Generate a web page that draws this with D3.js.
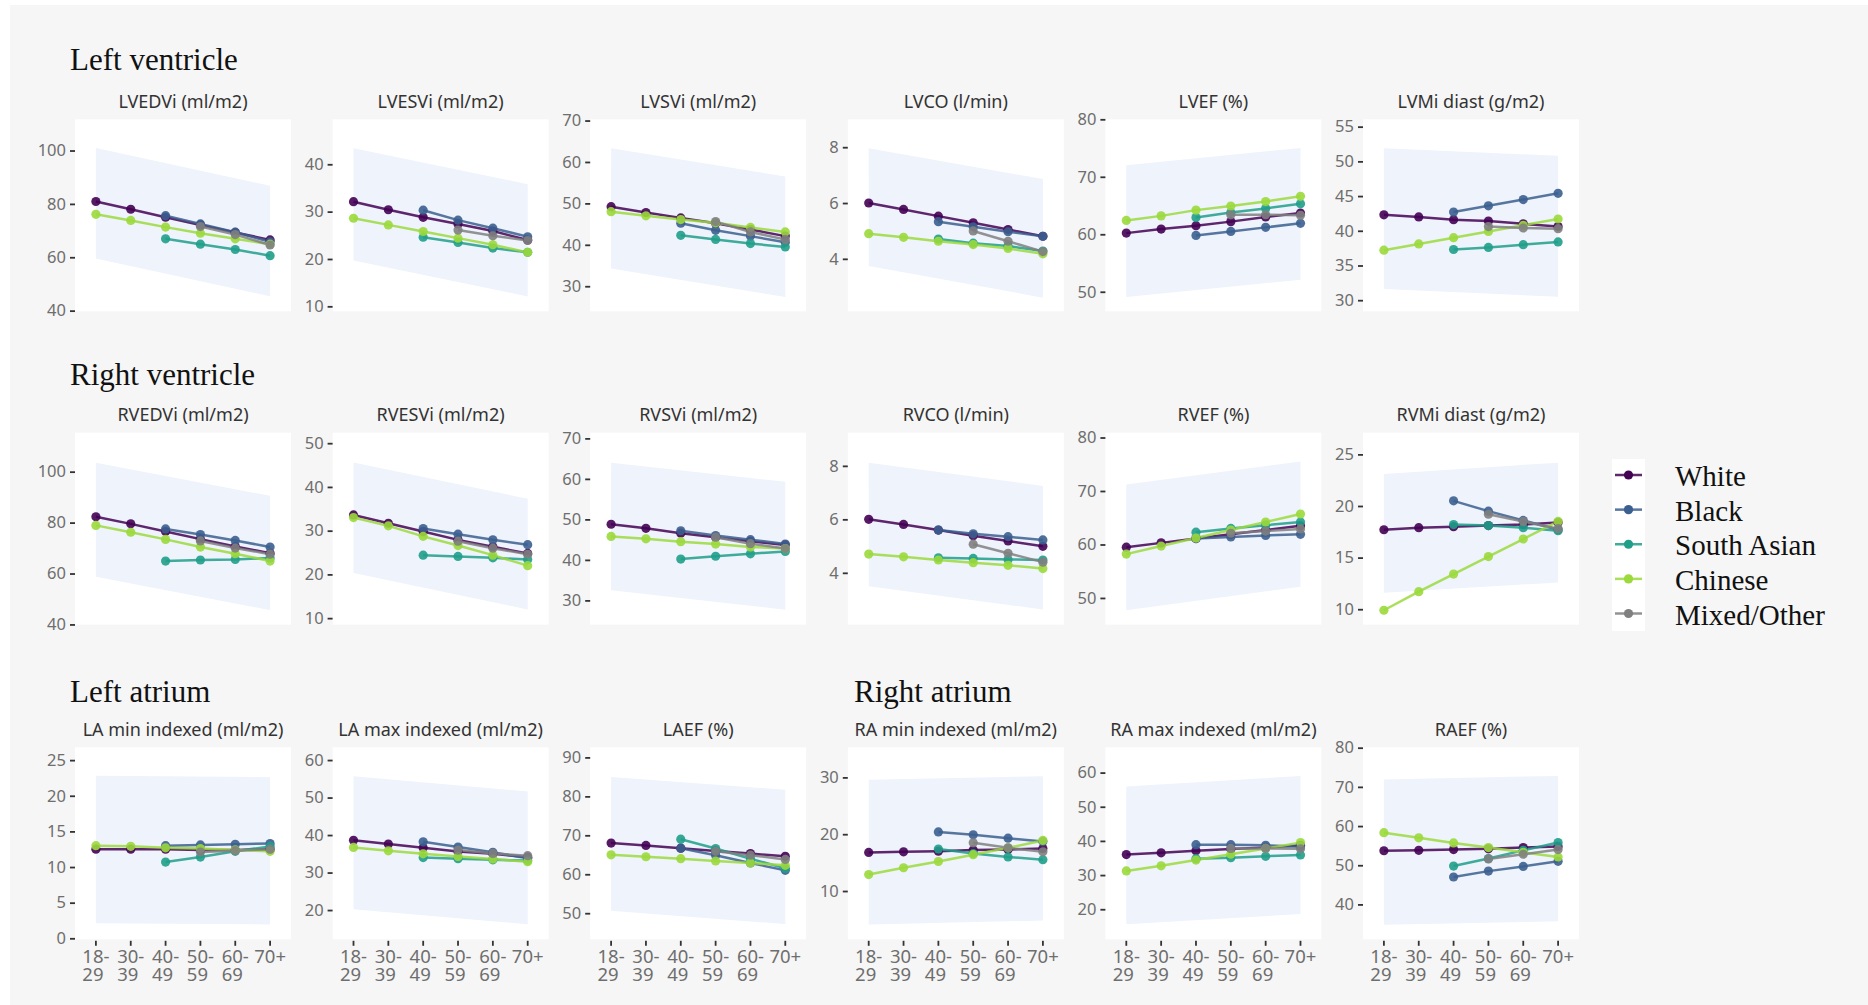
<!DOCTYPE html>
<html>
<head>
<meta charset="utf-8">
<script src="https://cdn.jsdelivr.net/npm/d3@7"></script>
<style>
  html, body { margin: 0; padding: 0; background: #ffffff; }
  svg { display: block; }
</style>
</head>
<body>
<svg id="chart" width="1868" height="1005"></svg>
<script>
// ---- categories ----
const ageGroups = ["18-29", "30-39", "40-49", "50-59", "60-69", "70+"];
const ageTickLines = [["18-", "29"], ["30-", "39"], ["40-", "49"], ["50-", "59"], ["60-", "69"], ["70+"]];
const ethnicities = ["White", "Black", "South Asian", "Chinese", "Mixed/Other"];

// ---- series values: one row per ethnicity (White, Black, South Asian, Chinese, Mixed/Other) ----
const lvedvi = [
  [80.9, 78.0, 75.0, 72.1, 69.3, 66.5],
  [null, null, 75.6, 72.5, 69.4, 65.8],
  [null, null, 66.9, 64.9, 62.9, 60.6],
  [76.1, 73.8, 71.3, 69.0, 66.9, 64.9],
  [null, null, null, 71.5, 68.5, 64.6]
];
const lvesvi = [
  [32.1, 30.4, 28.8, 27.4, 25.9, 24.0],
  [null, null, 30.3, 28.2, 26.5, 24.7],
  [null, null, 24.6, 23.5, 22.3, 21.4],
  [28.6, 27.2, 25.8, 24.4, 23.0, 21.4],
  [null, null, null, 26.1, 24.9, 23.9]
];
const lvsvi = [
  [49.2, 47.8, 46.5, 45.2, 43.7, 42.1],
  [null, null, 45.2, 43.5, 42.1, 40.6],
  [null, null, 42.3, 41.3, 40.3, 39.5],
  [48.0, 47.0, 46.1, 45.3, 44.2, 43.1],
  [null, null, null, 45.6, 43.1, 41.3]
];
const lvco = [
  [6.00, 5.77, 5.53, 5.29, 5.05, 4.81],
  [null, null, 5.33, 5.15, 4.97, 4.81],
  [null, null, 4.71, 4.56, 4.46, 4.28],
  [4.90, 4.77, 4.63, 4.51, 4.37, 4.18],
  [null, null, null, 5.00, 4.63, 4.26]
];
const lvef = [
  [60.2, 60.9, 61.5, 62.2, 63.0, 63.7],
  [null, null, 59.8, 60.5, 61.2, 61.9],
  [null, null, 62.9, 63.8, 64.5, 65.3],
  [62.4, 63.2, 64.2, 64.9, 65.7, 66.6],
  [null, null, null, 63.4, 63.4, 63.3]
];
const lvmi = [
  [42.3, 42.0, 41.6, 41.4, 41.0, 40.6],
  [null, null, 42.7, 43.6, 44.5, 45.4],
  [null, null, 37.3, 37.6, 38.0, 38.4],
  [37.2, 38.1, 39.0, 39.9, 40.8, 41.7],
  [null, null, null, 40.6, 40.4, 40.3]
];
const rvedvi = [
  [82.3, 79.5, 76.5, 73.5, 70.6, 68.0],
  [null, null, 77.5, 75.3, 73.0, 70.4],
  [null, null, 64.9, 65.3, 65.5, 66.1],
  [78.9, 76.2, 73.4, 70.4, 67.8, 64.9],
  [null, null, null, 72.8, 70.0, 67.6]
];
const rvesvi = [
  [33.6, 31.7, 29.8, 27.9, 26.3, 24.8],
  [null, null, 30.5, 29.2, 27.9, 26.8],
  [null, null, 24.4, 24.1, 23.8, 23.4],
  [33.0, 31.1, 28.7, 26.6, 24.4, 22.0],
  [null, null, null, 27.6, 26.0, 24.6]
];
const rvsvi = [
  [48.8, 47.8, 46.6, 45.6, 44.6, 43.7],
  [null, null, 47.2, 46.0, 45.0, 43.9],
  [null, null, 40.2, 40.9, 41.5, 42.1],
  [45.8, 45.2, 44.5, 43.9, 43.2, 42.8],
  [null, null, null, 45.6, 44.0, 42.8]
];
const rvco = [
  [6.00, 5.81, 5.60, 5.39, 5.19, 4.99],
  [null, null, 5.60, 5.46, 5.35, 5.23],
  [null, null, 4.56, 4.54, 4.50, 4.48],
  [4.70, 4.60, 4.48, 4.38, 4.28, 4.16],
  [null, null, null, 5.07, 4.73, 4.40]
];
const rvef = [
  [59.5, 60.3, 61.1, 61.9, 62.7, 63.5],
  [null, null, 61.1, 61.4, 61.7, 61.9],
  [null, null, 62.3, 63.0, 63.6, 64.2],
  [58.2, 59.7, 61.2, 62.7, 64.2, 65.7],
  [null, null, null, 62.1, 62.5, 62.9]
];
const rvmi = [
  [17.7, 17.9, 18.0, 18.1, 18.2, 18.4],
  [null, null, 20.5, 19.5, 18.6, 17.7],
  [null, null, 18.2, 18.1, 17.9, 17.6],
  [9.9, 11.7, 13.4, 15.1, 16.8, 18.5],
  [null, null, null, 19.2, 18.5, 17.8]
];
const laMin = [
  [12.5, 12.5, 12.5, 12.4, 12.4, 12.5],
  [null, null, 13.0, 13.1, 13.2, 13.3],
  [null, null, 10.7, 11.4, 12.2, 12.9],
  [13.0, 12.9, 12.7, 12.6, 12.4, 12.2],
  [null, null, null, 12.1, 12.3, 12.5]
];
const laMax = [
  [38.6, 37.6, 36.6, 35.6, 35.0, 34.1],
  [null, null, 38.2, 36.8, 35.4, 33.8],
  [null, null, 34.0, 33.7, 33.4, 33.2],
  [36.7, 35.8, 35.0, 34.3, 33.6, 32.9],
  [null, null, null, 36.0, 35.1, 34.5]
];
const laef = [
  [68.0, 67.4, 66.7, 66.0, 65.3, 64.6],
  [null, null, 66.7, 64.9, 62.9, 61.0],
  [null, null, 69.0, 66.6, 64.0, 61.5],
  [65.0, 64.5, 64.0, 63.4, 62.9, 62.3],
  [null, null, null, 65.9, 64.9, 63.8]
];
const raMin = [
  [16.8, 16.9, 17.0, 17.2, 17.3, 17.5],
  [null, null, 20.4, 19.9, 19.3, 18.7],
  [null, null, 17.4, 16.6, 16.0, 15.5],
  [12.9, 14.1, 15.2, 16.4, 17.6, 18.9],
  [null, null, null, 18.5, 17.6, 16.9]
];
const raMax = [
  [36.0, 36.5, 37.1, 37.6, 38.1, 38.7],
  [null, null, 38.9, 38.9, 38.7, 38.3],
  [null, null, 34.8, 35.1, 35.5, 35.9],
  [31.2, 32.7, 34.4, 36.1, 37.8, 39.5],
  [null, null, null, 37.8, 37.8, 37.7]
];
const raef = [
  [53.7, 53.8, 54.0, 54.2, 54.5, 54.8],
  [null, null, 47.0, 48.5, 49.7, 51.0],
  [null, null, 49.8, 51.7, 53.8, 55.8],
  [58.3, 57.0, 55.7, 54.5, 53.3, 52.1],
  [null, null, null, 51.6, 52.8, 54.0]
];

// ---- reference bands: [lower at 18-29, lower at 70+], [upper at 18-29, upper at 70+] ----
const lvediBand = [[59.5, 45.4], [100.9, 86.8]];
const lvesviBand = [[19.7, 12.1], [43.4, 35.8]];
const lvsviBand = [[34.3, 27.4], [63.3, 56.5]];
const lvcoBand = [[3.74, 2.61], [7.96, 6.86]];
const lvefBand = [[49.1, 52.1], [72.0, 75.0]];
const lvmiBand = [[31.6, 30.5], [51.9, 50.8]];
const rvediBand = [[58.7, 45.6], [103.5, 90.5]];
const rvesviBand = [[20.3, 12.0], [45.6, 37.3]];
const rvsviBand = [[32.5, 27.7], [64.0, 59.3]];
const rvcoBand = [[3.50, 2.63], [8.12, 7.25]];
const rvefBand = [[47.7, 52.1], [71.2, 75.5]];
const rvmiBand = [[11.6, 12.6], [23.1, 24.2]];
const laMinBand = [[2.1, 1.95], [22.8, 22.6]];
const laMaxBand = [[20.2, 16.2], [55.7, 51.6]];
const laefBand = [[50.6, 47.2], [85.0, 81.7]];
const raMinBand = [[4.1, 4.8], [29.6, 30.2]];
const raMaxBand = [[15.6, 18.6], [55.9, 59.0]];
const raefBand = [[34.8, 35.7], [71.9, 72.8]];

// ---- y tick labels per panel ----
const ticksLVEDVi = [40, 60, 80, 100];
const ticksLVESVi = [10, 20, 30, 40];
const ticksLVSVi = [30, 40, 50, 60, 70];
const ticksLVCO = [4, 6, 8];
const ticksLVEF = [50, 60, 70, 80];
const ticksLVMi = [30, 35, 40, 45, 50, 55];
const ticksRVEDVi = [40, 60, 80, 100];
const ticksRVESVi = [10, 20, 30, 40, 50];
const ticksRVSVi = [30, 40, 50, 60, 70];
const ticksRVCO = [4, 6, 8];
const ticksRVEF = [50, 60, 70, 80];
const ticksRVMi = [10, 15, 20, 25];
const ticksLAMin = [0, 5, 10, 15, 20, 25];
const ticksLAMax = [20, 30, 40, 50, 60];
const ticksLAEF = [50, 60, 70, 80, 90];
const ticksRAMin = [10, 20, 30];
const ticksRAMax = [20, 30, 40, 50, 60];
const ticksRAEF = [40, 50, 60, 70, 80];

// ---- panel definitions (row, column, title, data, band, scale domain, ticks) ----
const panels = [
  { row: 0, col: 0, title: "LVEDVi (ml/m2)", values: lvedvi, band: lvediBand, domain: [39.75, 111.7], ticks: ticksLVEDVi },
  { row: 0, col: 1, title: "LVESVi (ml/m2)", values: lvesvi, band: lvesviBand, domain: [8.95, 49.5], ticks: ticksLVESVi },
  { row: 0, col: 2, title: "LVSVi (ml/m2)", values: lvsvi, band: lvsviBand, domain: [23.95, 70.3], ticks: ticksLVSVi },
  { row: 0, col: 3, title: "LVCO (l/min)", values: lvco, band: lvcoBand, domain: [2.12, 9.0], ticks: ticksLVCO },
  { row: 0, col: 4, title: "LVEF (%)", values: lvef, band: lvefBand, domain: [46.6, 80.0], ticks: ticksLVEF },
  { row: 0, col: 5, title: "LVMi diast (g/m2)", values: lvmi, band: lvmiBand, domain: [28.4, 56.06], ticks: ticksLVMi },
  { row: 1, col: 0, title: "RVEDVi (ml/m2)", values: rvedvi, band: rvediBand, domain: [39.9, 115.3], ticks: ticksRVEDVi },
  { row: 1, col: 1, title: "RVESVi (ml/m2)", values: rvesvi, band: rvesviBand, domain: [8.5, 52.4], ticks: ticksRVESVi },
  { row: 1, col: 2, title: "RVSVi (ml/m2)", values: rvsvi, band: rvsviBand, domain: [24.0, 71.4], ticks: ticksRVSVi },
  { row: 1, col: 3, title: "RVCO (l/min)", values: rvco, band: rvcoBand, domain: [2.06, 9.24], ticks: ticksRVCO },
  { row: 1, col: 4, title: "RVEF (%)", values: rvef, band: rvefBand, domain: [45.0, 80.9], ticks: ticksRVEF },
  { row: 1, col: 5, title: "RVMi diast (g/m2)", values: rvmi, band: rvmiBand, domain: [8.5, 27.1], ticks: ticksRVMi },
  { row: 2, col: 0, title: "LA min indexed (ml/m2)", values: laMin, band: laMinBand, domain: [-0.14, 26.8], ticks: ticksLAMin },
  { row: 2, col: 1, title: "LA max indexed (ml/m2)", values: laMax, band: laMaxBand, domain: [12.2, 63.4], ticks: ticksLAMax },
  { row: 2, col: 2, title: "LAEF (%)", values: laef, band: laefBand, domain: [43.3, 92.6], ticks: ticksLAEF },
  { row: 2, col: 3, title: "RA min indexed (ml/m2)", values: raMin, band: raMinBand, domain: [1.5, 35.3], ticks: ticksRAMin },
  { row: 2, col: 4, title: "RA max indexed (ml/m2)", values: raMax, band: raMaxBand, domain: [11.2, 67.4], ticks: ticksRAMax },
  { row: 2, col: 5, title: "RAEF (%)", values: raef, band: raefBand, domain: [31.1, 80.1], ticks: ticksRAEF }
];

const sections = [
  { text: "Left ventricle", x: 70, y: 69.5 },
  { text: "Right ventricle", x: 70, y: 384.5 },
  { text: "Left atrium", x: 70, y: 702 },
  { text: "Right atrium", x: 854, y: 702 }
];

// ---- styling ----
const colors = ["#440154", "#3b5f8f", "#1f9e89", "#9bd93c", "#808080"];
const sansFont = "'Noto Sans', 'Open Sans', sans-serif";
const serifFont = "'Liberation Serif', 'DejaVu Serif', serif";
const panelLeft = 75, panelStep = 257.6, panelW = 216, panelH = 192;
const rowTops = [119.3, 432.7, 747.3];
const dotR = 4.6;

const svg = d3.select("#chart");

// page background
svg.append("rect").attr("x", 10).attr("y", 5).attr("width", 1858).attr("height", 1000).attr("fill", "#f6f6f6");

// section headings
svg.selectAll("text.section").data(sections).join("text")
  .attr("class", "section")
  .attr("x", d => d.x).attr("y", d => d.y)
  .attr("font-family", serifFont).attr("font-size", 31).attr("fill", "#111")
  .text(d => d.text);

panels.forEach(p => {
  const x0 = panelLeft + p.col * panelStep;
  const y0 = rowTops[p.row];
  const g = svg.append("g").attr("transform", `translate(${x0},${y0})`);

  const x = d3.scalePoint().domain(ageGroups).range([0, panelW]).padding(0.6);
  const y = d3.scaleLinear().domain(p.domain).range([panelH, 0]);

  // panel background
  g.append("rect").attr("width", panelW).attr("height", panelH).attr("fill", "#ffffff");

  // reference band from youngest to oldest age group
  const ends = [ageGroups[0], ageGroups[ageGroups.length - 1]];
  const bandPts = ends.map((a, i) => ({ a, lo: p.band[0][i], hi: p.band[1][i] }));
  g.append("path").datum(bandPts)
    .attr("fill", "#eef3fc")
    .attr("d", d3.area().x(d => x(d.a)).y0(d => y(d.lo)).y1(d => y(d.hi)));

  // panel title
  g.append("text").attr("x", panelW / 2).attr("y", -11.5)
    .attr("text-anchor", "middle").attr("font-family", sansFont).attr("font-size", 18)
    .attr("fill", "#333").text(p.title);

  // y axis
  const yAxis = g.append("g").call(
    d3.axisLeft(y).tickValues(p.ticks).tickFormat(d3.format("~g")).tickSize(5).tickPadding(4));
  yAxis.select(".domain").remove();
  yAxis.selectAll(".tick line").attr("stroke", "#333").attr("stroke-width", 1.8);
  yAxis.selectAll(".tick text").attr("font-family", sansFont).attr("font-size", 16.5).attr("fill", "#6e6e6e");

  // x axis (age groups) only on the bottom row; labels wrap onto two lines
  if (p.row === 2) {
    const xAxis = g.append("g").attr("transform", `translate(0,${panelH})`);
    ageGroups.forEach((a, i) => {
      xAxis.append("line").attr("x1", x(a)).attr("x2", x(a))
        .attr("y1", 1.5).attr("y2", 6.5)
        .attr("stroke", "#333").attr("stroke-width", 1.8);
      const t = xAxis.append("text").attr("font-family", sansFont).attr("font-size", 18.5).attr("fill", "#6e6e6e");
      ageTickLines[i].forEach((ln, j) => {
        t.append("tspan").attr("x", 0).attr("y", 23.5 + j * 18.3).text(ln);
      });
      const w = t.node().getBBox().width;
      t.attr("transform", `translate(${x(a) - w / 2},0)`);
    });
  }

  // series lines then points
  const line = d3.line().defined(d => d.v != null).x(d => x(d.a)).y(d => y(d.v));
  const series = p.values.map((vals, k) => ({ k, pts: vals.map((v, i) => ({ a: ageGroups[i], v })) }));
  g.selectAll("path.series").data(series).join("path")
    .attr("class", "series")
    .attr("fill", "none").attr("stroke", d => colors[d.k]).attr("stroke-width", 2.5)
    .attr("stroke-opacity", 0.85)
    .attr("d", d => line(d.pts));
  series.forEach(s => {
    g.selectAll(null).data(s.pts.filter(d => d.v != null)).join("circle")
      .attr("cx", d => x(d.a)).attr("cy", d => y(d.v)).attr("r", dotR)
      .attr("fill", colors[s.k]).attr("fill-opacity", 0.9);
  });
});

// legend
const lg = svg.append("g");
lg.append("rect").attr("x", 1612).attr("y", 459).attr("width", 33).attr("height", 172).attr("fill", "#ffffff");
const legendY = d3.scalePoint().domain(ethnicities).range([475, 613.5]);
ethnicities.forEach((e, k) => {
  const yy = legendY(e);
  lg.append("line").attr("x1", 1615).attr("x2", 1642).attr("y1", yy).attr("y2", yy)
    .attr("stroke", colors[k]).attr("stroke-width", 2.5).attr("stroke-opacity", 0.85);
  lg.append("circle").attr("cx", 1628.5).attr("cy", yy).attr("r", dotR).attr("fill", colors[k]);
  lg.append("text").attr("x", 1675).attr("y", yy + 11)
    .attr("font-family", serifFont).attr("font-size", 29).attr("fill", "#111").text(e);
});
</script>
</body>
</html>
